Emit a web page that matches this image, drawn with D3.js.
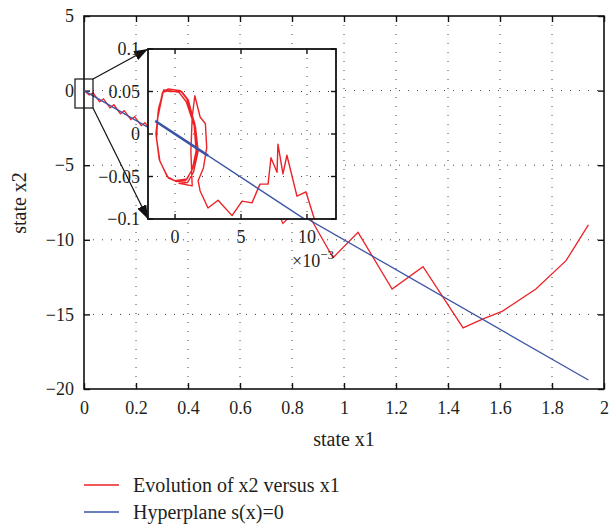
<!DOCTYPE html>
<html>
<head>
<meta charset="utf-8">
<script src="https://cdn.jsdelivr.net/npm/d3@7"></script>
<style>
  body { margin: 0; background: #fff; }
  svg text { font-family: "Liberation Serif", "Times New Roman", serif !important; fill: #231f20; }
</style>
</head>
<body>
<div id="chart-area"></div>
<script>
// main plot: evolution of x2 versus x1
const evoX1 = [0, 0.02, 0.035, 0.06, 0.075, 0.10, 0.115, 0.14, 0.155, 0.18, 0.195, 0.22, 0.235, 0.26, 0.28,
  0.33, 0.36, 0.42, 0.46, 0.53, 0.58, 0.65, 0.70, 0.765, 0.84, 0.958, 1.054, 1.185, 1.304, 1.458, 1.535,
  1.608, 1.738, 1.854, 1.94]
const evoX2 = [0, -0.3, -0.15, -0.75, -0.55, -1.15, -0.95, -1.55, -1.35, -1.95, -1.75, -2.35, -2.15, -2.75, -2.6,
  -3.6, -3.2, -4.6, -4.1, -5.8, -5.1, -7.0, -6.3, -8.9, -7.6, -11.2, -9.5, -13.3, -11.8, -15.9, -15.3,
  -14.8, -13.3, -11.4, -9.0]
// hyperplane s(x)=0
const hypX1 = [0, 1.94]
const hypX2 = [0, -19.4]

const xTicks = [0, 0.2, 0.4, 0.6, 0.8, 1, 1.2, 1.4, 1.6, 1.8, 2]
const yTicks = [5, 0, -5, -10, -15, -20]

// inset (x1 in units of 1e-3)
const inX1 = [-1.3, -0.9, -0.5, 0.4, 0.9, 1.5, 1.7, 1.35, 0.9, 0, -0.5, -1.15, -1.4, -1.3,
  -0.95, -0.45, 0.3, 0.85, 1.45, 1.6, 1.3, 0.8, 0.1, -0.6, -1.2, -1.45, -1.25,
  -0.85, -0.4, 0.5, 1.0, 1.55, 1.75, 1.4, 0.95, 0.3,
  1.3, 1.2, 1.3, 1.5, 1.9, 2.3, 2.4, 2.15, 1.75, 1.9,
  2.5, 3.26, 4.32, 5.08, 5.83, 6.44, 7.05, 7.27, 7.73, 7.8, 8.18, 8.48, 9.24, 9.92, 10.6, 11.2]
const inX2 = [0.02, 0.05, 0.053, 0.051, 0.041, 0.012, -0.017, -0.04, -0.053, -0.055, -0.052, -0.032, -0.005, 0.023,
  0.049, 0.051, 0.049, 0.038, 0.01, -0.02, -0.042, -0.055, -0.056, -0.05, -0.03, 0.0, 0.03,
  0.052, 0.05, 0.05, 0.04, 0.008, -0.02, -0.045, -0.057, -0.058,
  -0.061, -0.02, 0.02, 0.045, 0.02, 0.012, -0.016, -0.04, -0.055, -0.067,
  -0.087, -0.078, -0.096, -0.079, -0.081, -0.059, -0.059, -0.028, -0.045, -0.012, -0.047, -0.025, -0.073, -0.068, -0.102, -0.13]
const inHypX1 = [-1.5, 12.2]
const inHypX2 = [0.0153, -0.1244]
const inHypBoldX1 = [-1.5, 2.5]
const inHypBoldX2 = [0.0153, -0.0255]

const inXTicks = [0, 5, 10]
const inYTicks = [-0.1, -0.05, 0, 0.05, 0.1]
const inYLabels = ["\u22120.1", "\u22120.05", "0", "0.05", "0.1"]

const RED = "#ec2227"
const BLUE = "#3c54a5"
const FONT = "Liberation Serif"

const svg = d3.select("#chart-area").append("svg")
  .attr("width", 609)
  .attr("height", 526)
  .attr("font-family", FONT)

const x = d3.scaleLinear().domain([0, 2]).range([84, 604])
const y = d3.scaleLinear().domain([-20, 5]).range([389, 16])

const defs = svg.append("defs")
defs.append("marker")
  .attr("id", "arrow")
  .attr("markerUnits", "userSpaceOnUse")
  .attr("viewBox", "0 0 14 10")
  .attr("refX", 14).attr("refY", 5)
  .attr("markerWidth", 14).attr("markerHeight", 10)
  .attr("orient", "auto")
  .append("path").attr("d", "M0,0 L14,5 L0,10 Z").attr("fill", "#111")

// grid
const grid = svg.append("g").attr("stroke", "#444").attr("stroke-width", 1).attr("stroke-dasharray", "1,8")
grid.selectAll(".gx").data(xTicks.slice(1, -1)).enter().append("line")
  .attr("x1", d => x(d)).attr("x2", d => x(d)).attr("y1", y(5)).attr("y2", y(-20))
grid.selectAll(".gy").data(yTicks.slice(1, -1)).enter().append("line")
  .attr("y1", d => y(d)).attr("y2", d => y(d)).attr("x1", x(0)).attr("x2", x(2))

// axes, ticks inward
const xAx = svg.append("g").attr("transform", `translate(0, ${y(-20)})`)
  .call(d3.axisBottom(x).tickValues(xTicks).tickSize(-6).tickPadding(12).tickFormat(d3.format("")))
xAx.select(".domain").remove()
svg.append("g").attr("transform", `translate(0, ${y(5)})`)
  .call(d3.axisTop(x).tickValues(xTicks).tickSize(-6).tickFormat(""))
  .select(".domain").remove()
const yAx = svg.append("g").attr("transform", `translate(${x(0)}, 0)`)
  .call(d3.axisLeft(y).tickValues(yTicks).tickSize(-6).tickPadding(10))
yAx.select(".domain").remove()
svg.append("g").attr("transform", `translate(${x(2)}, 0)`)
  .call(d3.axisRight(y).tickValues(yTicks).tickSize(-6).tickFormat(""))
  .select(".domain").remove()
svg.selectAll("g").attr("font-family", null).attr("font-size", null)
svg.selectAll(".tick line").attr("stroke", "#111").attr("stroke-width", 1.4)
svg.selectAll(".tick text").attr("font-size", 18).attr("font-family", FONT).attr("fill", "#231f20")

svg.append("rect")
  .attr("x", x(0)).attr("y", y(5)).attr("width", x(2) - x(0)).attr("height", y(-20) - y(5))
  .attr("fill", "none").attr("stroke", "#111").attr("stroke-width", 1.6)

// series
const line = d3.line().x(d => x(d[0])).y(d => y(d[1]))
svg.append("path").datum(evoX1.map((v, i) => [v, evoX2[i]]))
  .attr("d", line).attr("fill", "none").attr("stroke", RED).attr("stroke-width", 1.3)
svg.append("path").datum(hypX1.map((v, i) => [v, hypX2[i]]))
  .attr("d", line).attr("fill", "none").attr("stroke", BLUE).attr("stroke-width", 1.3)

// axis labels
svg.append("text").attr("x", 344).attr("y", 446).attr("text-anchor", "middle")
  .attr("font-size", 20).text("state x1")
svg.append("text").attr("transform", "translate(26, 203) rotate(-90)").attr("text-anchor", "middle")
  .attr("font-size", 20).text("state x2")

// zoom box and arrows
svg.append("rect").attr("x", 75).attr("y", 79).attr("width", 18).attr("height", 29)
  .attr("fill", "none").attr("stroke", "#111").attr("stroke-width", 1.2)
svg.append("line").attr("x1", 93).attr("y1", 79).attr("x2", 148).attr("y2", 49)
  .attr("stroke", "#111").attr("stroke-width", 1.2).attr("marker-end", "url(#arrow)")
svg.append("line").attr("x1", 93).attr("y1", 108).attr("x2", 148).attr("y2", 219)
  .attr("stroke", "#111").attr("stroke-width", 1.2).attr("marker-end", "url(#arrow)")

// inset
const xi = d3.scaleLinear().domain([-2.05, 12.2]).range([148, 336])
const yi = d3.scaleLinear().domain([-0.1, 0.1]).range([219, 49])

defs.append("clipPath").attr("id", "inclip").append("rect")
  .attr("x", 148).attr("y", 49).attr("width", 188).attr("height", 170)

const inset = svg.append("g")
inset.append("rect").attr("x", 148).attr("y", 49).attr("width", 188).attr("height", 170).attr("fill", "#fff")

const igrid = inset.append("g").attr("stroke", "#444").attr("stroke-width", 1).attr("stroke-dasharray", "1,8")
igrid.selectAll("line.v").data(inXTicks).enter().append("line")
  .attr("x1", d => xi(d)).attr("x2", d => xi(d)).attr("y1", yi(0.1)).attr("y2", yi(-0.1))
igrid.selectAll("line.h").data(inYTicks.slice(1, -1)).enter().append("line")
  .attr("y1", d => yi(d)).attr("y2", d => yi(d)).attr("x1", xi(-2.05)).attr("x2", xi(12.2))

const it = inset.append("g").attr("stroke", "#111").attr("stroke-width", 1.4)
inXTicks.forEach(d => {
  it.append("line").attr("x1", xi(d)).attr("x2", xi(d)).attr("y1", 219).attr("y2", 214)
  it.append("line").attr("x1", xi(d)).attr("x2", xi(d)).attr("y1", 49).attr("y2", 54)
})
inYTicks.forEach(d => {
  it.append("line").attr("y1", yi(d)).attr("y2", yi(d)).attr("x1", 148).attr("x2", 153)
  it.append("line").attr("y1", yi(d)).attr("y2", yi(d)).attr("x1", 336).attr("x2", 331)
})

const ilines = inset.append("g").attr("clip-path", "url(#inclip)")
const iline = d3.line().x(d => xi(d[0])).y(d => yi(d[1]))
ilines.append("path").datum(inX1.map((v, i) => [v, inX2[i]]))
  .attr("d", iline).attr("fill", "none").attr("stroke", RED).attr("stroke-width", 1.4)
  .attr("stroke-linejoin", "round")
ilines.append("path").datum(inHypX1.map((v, i) => [v, inHypX2[i]]))
  .attr("d", iline).attr("fill", "none").attr("stroke", BLUE).attr("stroke-width", 1.4)
ilines.append("path").datum(inHypBoldX1.map((v, i) => [v, inHypBoldX2[i]]))
  .attr("d", iline).attr("fill", "none").attr("stroke", BLUE).attr("stroke-width", 2.6)

inset.append("rect").attr("x", 148).attr("y", 49).attr("width", 188).attr("height", 170)
  .attr("fill", "none").attr("stroke", "#111").attr("stroke-width", 1.8)

inset.selectAll("text.iy").data(inYTicks).enter().append("text")
  .attr("x", 140).attr("y", d => yi(d)).attr("dy", "0.35em").attr("text-anchor", "end")
  .attr("font-size", 18).text((d, i) => inYLabels[i])
inset.selectAll("text.ix").data(inXTicks).enter().append("text")
  .attr("x", d => xi(d)).attr("y", 243).attr("text-anchor", "middle")
  .attr("font-size", 18).text(d => d)
const exp = inset.append("text").attr("x", 292).attr("y", 267).attr("font-size", 18)
exp.append("tspan").text("\u00d710")
exp.append("tspan").attr("dy", -8).attr("font-size", 13).text("\u22123")

// legend
const legend = svg.append("g")
const legendItems = [["Evolution of x2 versus x1", RED], ["Hyperplane s(x)=0", BLUE]]
legendItems.forEach((d, i) => {
  const ly = 485 + i * 27
  legend.append("line").attr("x1", 84).attr("x2", 119).attr("y1", ly).attr("y2", ly)
    .attr("stroke", d[1]).attr("stroke-width", 1.5)
  legend.append("text").attr("x", 133).attr("y", ly + 7).attr("font-size", 20).text(d[0])
})
</script>
</body>
</html>
